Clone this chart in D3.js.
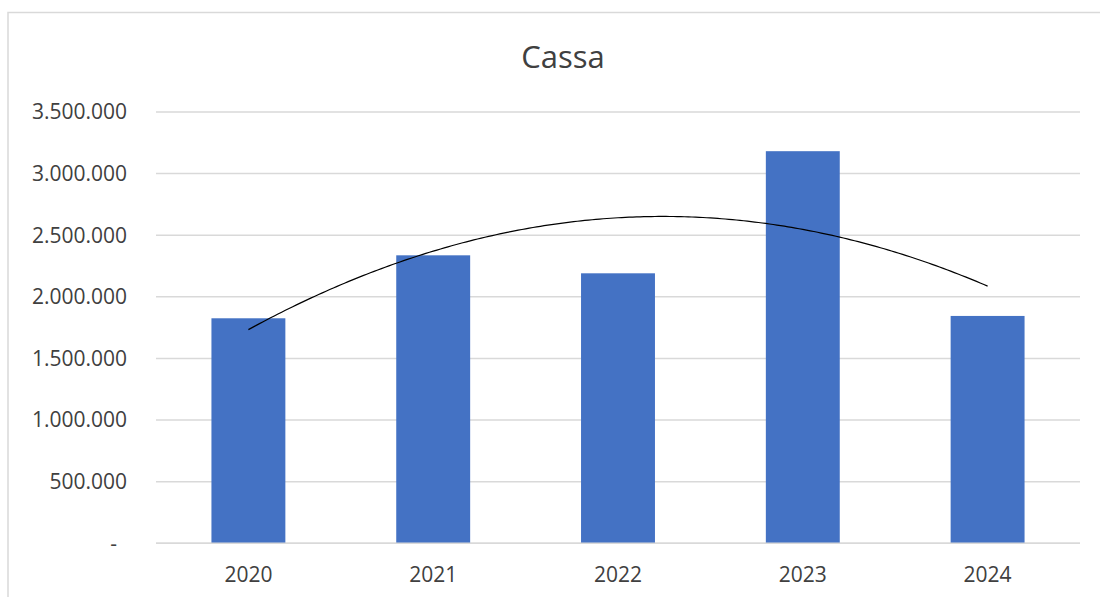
<!DOCTYPE html>
<html>
<head>
<meta charset="utf-8">
<script src="https://cdn.jsdelivr.net/npm/d3@7"></script>
<style>
  html, body { margin: 0; padding: 0; background: #fff; }
  svg { display: block; }
  text { font-family: "Open Sans", "Noto Sans", sans-serif; fill: #404040; }
</style>
</head>
<body>
<svg id="chart" width="1100" height="597"></svg>
<script>
// ---- data ----
const title = "Cassa";
const years = ["2020", "2021", "2022", "2023", "2024"];
const cassa = [1826000, 2337000, 2191000, 3182000, 1845000];
const yTicks = [0, 500000, 1000000, 1500000, 2000000, 2500000, 3000000, 3500000];

// ---- layout ----
const W = 1100, H = 597;
const plot = { left: 156, right: 1080, top: 112, bottom: 543.3 };

const svg = d3.select("#chart");

// chart border (Excel chart area)
svg.append("rect")
  .attr("x", 8).attr("y", 12.5)
  .attr("width", W + 20).attr("height", H + 20)
  .attr("fill", "#fff")
  .attr("stroke", "#d9d9d9").attr("stroke-width", 1.5);

const x = d3.scaleBand().domain(years)
  .range([plot.left, plot.right])
  .paddingInner(0.6).paddingOuter(0.3);

const y = d3.scaleLinear().domain([0, 3500000])
  .range([plot.bottom, plot.top]);

const fmt = v => v === 0 ? "-" : d3.format(",")(v).replace(/,/g, ".");

// gridlines
svg.append("g").selectAll("line").data(yTicks).join("line")
  .attr("x1", plot.left).attr("x2", plot.right)
  .attr("y1", d => y(d)).attr("y2", d => y(d))
  .attr("stroke", "#d9d9d9").attr("stroke-width", 1.5);

// y axis labels
svg.append("g").selectAll("text").data(yTicks).join("text")
  .attr("x", d => d === 0 ? 117 : 127)
  .attr("y", d => y(d))
  .attr("dy", "0.35em")
  .attr("text-anchor", "end")
  .style("font-size", "21px")
  .text(fmt);

// bars
svg.append("g").selectAll("rect").data(years).join("rect")
  .attr("x", d => x(d))
  .attr("width", x.bandwidth())
  .attr("y", (d, i) => y(cassa[i]))
  .attr("height", (d, i) => y(0) - y(cassa[i]))
  .attr("fill", "#4472C4");

// re-draw baseline over bars
svg.append("line")
  .attr("x1", plot.left).attr("x2", plot.right)
  .attr("y1", y(0)).attr("y2", y(0))
  .attr("stroke", "#d9d9d9").attr("stroke-width", 1.5);

// x axis labels
svg.append("g").selectAll("text").data(years).join("text")
  .attr("x", d => x(d) + x.bandwidth() / 2)
  .attr("y", 582)
  .attr("text-anchor", "middle")
  .style("font-size", "21px")
  .text(d => d);

// polynomial (order 2) trendline: least squares fit on index 1..n
(function () {
  const n = cassa.length;
  const ts = d3.range(n).map(i => i - (n - 1) / 2);
  const mean = d3.mean(cassa);
  const st2 = d3.sum(ts, t => t * t);
  const b = d3.sum(ts, (t, i) => t * cassa[i]) / st2;
  const m2 = st2 / n;
  const p2 = ts.map(t => t * t - m2);
  const c = d3.sum(p2, (p, i) => p * cassa[i]) / d3.sum(p2, p => p * p);
  const f = t => mean + b * t + c * (t * t - m2);
  const xc = t => {
    const pos = t + (n - 1) / 2; // 0..n-1
    const x0 = x(years[0]) + x.bandwidth() / 2;
    return x0 + pos * x.step();
  };
  const samples = d3.range(ts[0], ts[n - 1] + 1e-9, 0.02);
  svg.append("path")
    .datum(samples)
    .attr("d", d3.line().x(t => xc(t)).y(t => y(f(t))).curve(d3.curveLinear))
    .attr("fill", "none")
    .attr("stroke", "#000")
    .attr("stroke-width", 1.2);
})();

// title
svg.append("text")
  .attr("x", 563).attr("y", 67.5)
  .attr("text-anchor", "middle")
  .style("font-size", "31px")
  .text(title);
</script>
</body>
</html>
